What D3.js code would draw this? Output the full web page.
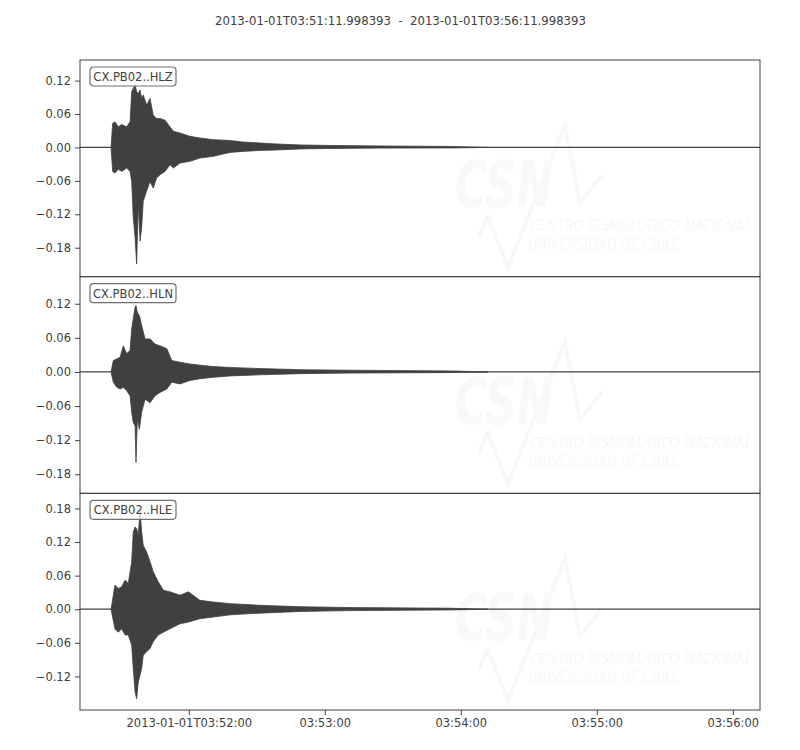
<!DOCTYPE html>
<html>
<head>
<meta charset="utf-8">
<script src="https://cdn.jsdelivr.net/npm/d3@7"></script>
<style>
  html, body { margin: 0; padding: 0; background: #fff; }
  body { font-family: "DejaVu Sans", sans-serif; }
  svg text { font-family: "DejaVu Sans", sans-serif; }
</style>
</head>
<body>
<div id="chart"></div>
<script>
// --- data (seconds after start, amplitude envelope) ---
const startTime = new Date(Date.UTC(2013, 0, 1, 3, 51, 11, 998.393));
const duration = 300;
const titleText = "2013-01-01T03:51:11.998393  -  2013-01-01T03:56:11.998393";

const channels = ["CX.PB02..HLZ", "CX.PB02..HLN", "CX.PB02..HLE"];

const tZ = [13.7, 14.4, 15.4, 16.9, 18.4, 20.6, 22.1, 22.8, 23.5, 24.3, 25.0, 25.7, 26.5, 27.2, 27.9, 29.4, 30.9, 32.3, 33.8, 35.3, 37.5, 39.7, 41.2, 44.1, 48.5, 52.9, 58.7, 66.2, 71.9, 79.4, 86.9, 97.1, 110.3, 132.4, 163.2, 180];
const hiZ = [0, 0.043, 0.046, 0.037, 0.041, 0.037, 0.046, 0.100, 0.106, 0.112, 0.100, 0.097, 0.103, 0.088, 0.094, 0.076, 0.088, 0.058, 0.052, 0.052, 0.049, 0.037, 0.029, 0.026, 0.020, 0.017, 0.014, 0.0125, 0.0098, 0.008, 0.0062, 0.0045, 0.0036, 0.0027, 0.0018, 0];
const loZ = [0, -0.043, -0.046, -0.039, -0.043, -0.037, -0.043, -0.061, -0.126, -0.162, -0.209, -0.102, -0.168, -0.144, -0.096, -0.078, -0.061, -0.073, -0.055, -0.049, -0.043, -0.031, -0.037, -0.028, -0.025, -0.019, -0.016, -0.0089, -0.0071, -0.0053, -0.0045, -0.0027, -0.0018, -0.0012, -0.0009, 0];

const tN = [13.7, 14.7, 16.2, 17.7, 19.1, 20.6, 22.1, 22.8, 23.5, 24.3, 24.7, 25.3, 26.2, 27.2, 28.7, 30.9, 33.1, 35.3, 38.3, 40.5, 44.1, 48.5, 52.9, 58.7, 66.2, 79.4, 97.1, 119.1, 163.2, 180];
const hiN = [0, 0.020, 0.023, 0.026, 0.046, 0.032, 0.038, 0.076, 0.094, 0.114, 0.117, 0.105, 0.099, 0.082, 0.058, 0.058, 0.049, 0.046, 0.041, 0.020, 0.017, 0.014, 0.012, 0.0094, 0.008, 0.006, 0.004, 0.003, 0.0018, 0];
const loN = [0, -0.018, -0.027, -0.030, -0.027, -0.033, -0.042, -0.071, -0.089, -0.095, -0.159, -0.083, -0.101, -0.071, -0.048, -0.054, -0.042, -0.036, -0.030, -0.018, -0.021, -0.015, -0.012, -0.0094, -0.007, -0.005, -0.003, -0.002, -0.001, 0];

const tE = [13.7, 15.4, 16.9, 18.4, 19.9, 21.3, 22.8, 23.5, 24.3, 25.0, 25.7, 26.5, 27.2, 27.9, 29.4, 30.9, 32.3, 34.5, 36.8, 39.7, 44.1, 47.8, 52.9, 58.7, 66.2, 79.4, 97.1, 119.1, 163.2, 180];
const hiE = [0, 0.043, 0.037, 0.040, 0.052, 0.046, 0.085, 0.138, 0.147, 0.144, 0.132, 0.177, 0.138, 0.114, 0.102, 0.085, 0.067, 0.049, 0.034, 0.031, 0.025, 0.031, 0.016, 0.013, 0.010, 0.007, 0.0045, 0.003, 0.0018, 0];
const loE = [0, -0.035, -0.041, -0.035, -0.046, -0.046, -0.064, -0.106, -0.148, -0.160, -0.130, -0.118, -0.106, -0.082, -0.076, -0.070, -0.058, -0.046, -0.041, -0.035, -0.026, -0.023, -0.017, -0.014, -0.010, -0.007, -0.004, -0.0025, -0.0012, 0];

const yDomains = [[-0.232, 0.157], [-0.2135, 0.1676], [-0.180, 0.207]];
const yTicks = [
  [-0.18, -0.12, -0.06, 0, 0.06, 0.12],
  [-0.18, -0.12, -0.06, 0, 0.06, 0.12],
  [-0.12, -0.06, 0, 0.06, 0.12, 0.18]
];
const xTickSeconds = [48.001607, 108.001607, 168.001607, 228.001607, 288.001607];
const xTickLabels = ["2013-01-01T03:52:00", "03:53:00", "03:54:00", "03:55:00", "03:56:00"];

const traces = [
  { t: tZ, hi: hiZ, lo: loZ },
  { t: tN, hi: hiN, lo: loN },
  { t: tE, hi: hiE, lo: loE }
];

// --- layout ---
const width = 800, height = 750;
const plotLeft = 80, plotRight = 760, plotTop = 60, plotBottom = 710;
const panelH = (plotBottom - plotTop) / 3;
const ink = "#404040";
const wmColor = "#f8f8f8";

const svg = d3.select("#chart").append("svg")
  .attr("width", width)
  .attr("height", height);

svg.append("text")
  .attr("x", 400.5)
  .attr("y", 25)
  .attr("text-anchor", "middle")
  .style("font-size", "11.7px")
  .style("white-space", "pre")
  .style("fill", ink)
  .text(titleText);

const x = d3.scaleUtc()
  .domain([startTime, new Date(startTime.getTime() + duration * 1000)])
  .range([plotLeft, plotRight]);
const tx = s => x(new Date(startTime.getTime() + s * 1000));

traces.forEach((tr, i) => {
  const y0 = plotTop + i * panelH;
  const y = d3.scaleLinear().domain(yDomains[i]).range([y0 + panelH, y0]);

  const g = svg.append("g");

  g.append("clipPath").attr("id", "clip" + i)
    .append("rect").attr("x", plotLeft).attr("y", y0).attr("width", plotRight - plotLeft).attr("height", panelH);

  const inner = g.append("g").attr("clip-path", `url(#clip${i})`);

  // faint CSN watermark
  const wm = inner.append("g");
  const wave = [[478, 177], [488, 157], [508, 207], [565, 65], [580, 143], [602, 115]];
  wm.append("path")
    .attr("d", d3.line()(wave.map(p => [p[0], y0 + p[1]])))
    .attr("fill", "none")
    .attr("stroke", wmColor)
    .attr("stroke-width", 4)
    .attr("stroke-linejoin", "miter");
  wm.append("text")
    .attr("x", 455).attr("y", y0 + 147)
    .attr("textLength", 98).attr("lengthAdjust", "spacingAndGlyphs")
    .style("font-size", "64px").style("font-weight", "bold").style("font-style", "italic")
    .style("fill", wmColor)
    .text("CSN");
  wm.append("text")
    .attr("x", 530).attr("y", y0 + 171)
    .attr("textLength", 222).attr("lengthAdjust", "spacingAndGlyphs")
    .style("font-size", "15px").style("font-style", "italic")
    .style("fill", wmColor)
    .text("CENTRO SISMOLÓGICO NACIONAL");
  wm.append("text")
    .attr("x", 528).attr("y", y0 + 190)
    .attr("textLength", 152).attr("lengthAdjust", "spacingAndGlyphs")
    .style("font-size", "15px").style("font-style", "italic")
    .style("fill", wmColor)
    .text("UNIVERSIDAD DE CHILE");

  // baseline of the trace
  inner.append("line")
    .attr("x1", plotLeft).attr("x2", plotRight)
    .attr("y1", y(0)).attr("y2", y(0))
    .attr("stroke", ink).attr("stroke-width", 1.3);

  // waveform envelope
  const pts = tr.t.map((t, k) => ({ t: t, hi: tr.hi[k], lo: tr.lo[k] }));
  inner.append("path")
    .datum(pts)
    .attr("d", d3.area().x(d => tx(d.t)).y0(d => y(d.lo)).y1(d => y(d.hi)))
    .attr("fill", ink)
    .attr("stroke", ink)
    .attr("stroke-width", 0.8)
    .attr("stroke-linejoin", "round");

  // frame
  g.append("rect")
    .attr("x", plotLeft).attr("y", y0)
    .attr("width", plotRight - plotLeft).attr("height", panelH)
    .attr("fill", "none").attr("stroke", ink).attr("stroke-width", 1);

  // y axis
  const yAxis = g.append("g")
    .attr("transform", `translate(${plotLeft},0)`)
    .call(d3.axisLeft(y).tickValues(yTicks[i]).tickFormat(d3.format(".2f")).tickSize(5).tickPadding(4));
  yAxis.select(".domain").remove();
  yAxis.selectAll("line").attr("stroke", ink);
  yAxis.selectAll("text").style("font-size", "11.5px").style("fill", ink)
    .style("font-family", "DejaVu Sans, sans-serif");

  // channel label
  const lab = g.append("g").attr("transform", `translate(90,${y0 + 7})`);
  lab.append("rect")
    .attr("width", 86).attr("height", 19).attr("rx", 3.5)
    .attr("fill", "#fff").attr("fill-opacity", 0.75)
    .attr("stroke", "#707070").attr("stroke-width", 1.2);
  lab.append("text")
    .attr("x", 43).attr("y", 14)
    .attr("text-anchor", "middle")
    .style("font-size", "11.5px").style("fill", ink)
    .text(channels[i]);
});

// x axis on bottom panel
const xAxis = svg.append("g")
  .attr("transform", `translate(0,${plotBottom})`)
  .call(d3.axisBottom(x)
    .tickValues(xTickSeconds.map(s => new Date(startTime.getTime() + s * 1000)))
    .tickFormat((d, i) => xTickLabels[i])
    .tickSize(5).tickPadding(4));
xAxis.select(".domain").remove();
xAxis.selectAll("line").attr("stroke", ink);
xAxis.selectAll("text").style("font-size", "11.5px").style("fill", ink)
  .style("font-family", "DejaVu Sans, sans-serif");
</script>
</body>
</html>
